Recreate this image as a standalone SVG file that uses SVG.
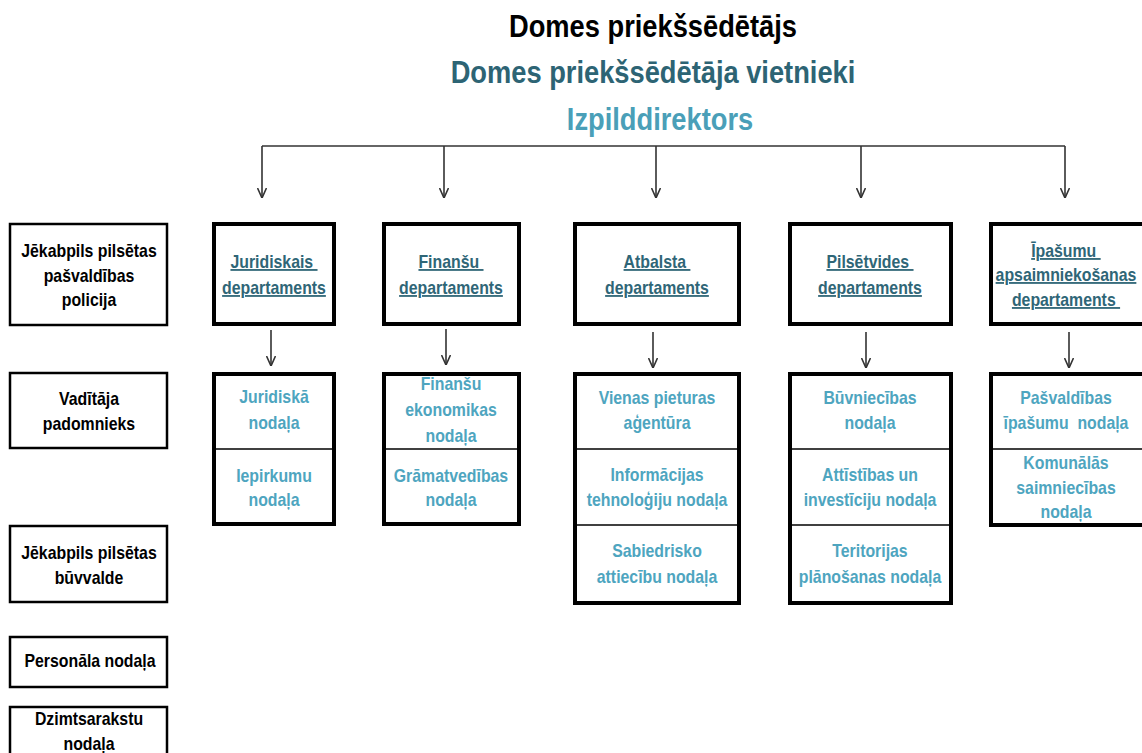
<svg xmlns="http://www.w3.org/2000/svg" width="1142" height="753" viewBox="0 0 1142 753">
<defs>
<style>
text { font-family: "Liberation Sans", Arial, sans-serif; font-weight: bold; text-anchor: middle; transform-box: fill-box; transform-origin: center; transform: scaleX(0.88); }
.h1 { font-size: 31px; fill: #000; }
.h2 { font-size: 31px; fill: #2d6474; }
.h3 { font-size: 31px; fill: #4a9fb8; }
.side { font-size: 18px; fill: #000; }
.dept { font-size: 18px; fill: #2f6677; text-decoration: underline; }
.sub { font-size: 18px; fill: #4ea5bf; }
.box { fill: #fff; stroke: #000; stroke-width: 2.5; }
.dbox { fill: #fff; stroke: #000; stroke-width: 4; }
.div { stroke: #000; stroke-width: 1.5; }
.conn { stroke: #333; stroke-width: 1.6; fill: none; }
.arr { stroke: #333; stroke-width: 1.6; fill: none; marker-end: url(#ah); }
</style>
<marker id="ah" viewBox="0 0 10 10" refX="10" refY="5" markerWidth="10" markerHeight="10" markerUnits="userSpaceOnUse" orient="auto">
<path d="M0,0.5 L10,5 L0,9.5" fill="none" stroke="#333" stroke-width="1.6"/>
</marker>
</defs>
<rect width="1142" height="753" fill="#fff"/>

<g id="titles">
<text class="h1" x="653" y="37">Domes priekšsēdētājs</text>
<text class="h2" x="653" y="83">Domes priekšsēdētāja vietnieki</text>
<text class="h3" x="660" y="130">Izpilddirektors</text>
</g>

<g id="connectors">
<line class="conn" x1="262" y1="146" x2="1065" y2="146"/>
<line class="arr" x1="262" y1="146" x2="262" y2="198"/>
<line class="arr" x1="444" y1="146" x2="444" y2="198"/>
<line class="arr" x1="656" y1="146" x2="656" y2="198"/>
<line class="arr" x1="861" y1="146" x2="861" y2="198"/>
<line class="arr" x1="1065" y1="146" x2="1065" y2="198"/>
<line class="arr" x1="271" y1="330" x2="271" y2="366"/>
<line class="arr" x1="446" y1="329" x2="446" y2="365"/>
<line class="arr" x1="653" y1="332" x2="653" y2="368"/>
<line class="arr" x1="866" y1="332" x2="866" y2="368"/>
<line class="arr" x1="1069" y1="332" x2="1069" y2="368"/>
</g>

<g id="side-policija">
<rect class="box" x="10" y="224" width="157" height="101"/>
<text class="side" x="89" y="257">Jēkabpils pilsētas</text>
<text class="side" x="89" y="282">pašvaldības</text>
<text class="side" x="89" y="306">policija</text>
</g>
<g id="side-padomnieks">
<rect class="box" x="10" y="373" width="157" height="75"/>
<text class="side" x="89" y="405">Vadītāja</text>
<text class="side" x="89" y="430">padomnieks</text>
</g>
<g id="side-buvvalde">
<rect class="box" x="10" y="526" width="157" height="76"/>
<text class="side" x="89" y="559">Jēkabpils pilsētas</text>
<text class="side" x="89" y="584">būvvalde</text>
</g>
<g id="side-personala">
<rect class="box" x="10" y="637" width="157" height="50"/>
<text class="side" x="90" y="667">Personāla nodaļa</text>
</g>
<g id="side-dzimtsarakstu">
<rect class="box" x="10" y="707" width="157" height="60"/>
<text class="side" x="89" y="725">Dzimtsarakstu</text>
<text class="side" x="89" y="750">nodaļa</text>
</g>

<g id="dept-juridiskais">
<rect class="dbox" x="214" y="224" width="120" height="100"/>
<text class="dept" x="274" y="268" xml:space="preserve">Juridiskais </text>
<text class="dept" x="274" y="294">departaments</text>
</g>
<g id="dept-finansu">
<rect class="dbox" x="384" y="224" width="135" height="100"/>
<text class="dept" x="451" y="268" xml:space="preserve">Finanšu </text>
<text class="dept" x="451" y="294">departaments</text>
</g>
<g id="dept-atbalsta">
<rect class="dbox" x="575" y="224" width="164" height="100"/>
<text class="dept" x="657" y="268" xml:space="preserve">Atbalsta </text>
<text class="dept" x="657" y="294">departaments</text>
</g>
<g id="dept-pilsetvides">
<rect class="dbox" x="790" y="224" width="161" height="100"/>
<text class="dept" x="870" y="268" xml:space="preserve">Pilsētvides </text>
<text class="dept" x="870" y="294">departaments</text>
</g>
<g id="dept-ipasumu">
<rect class="dbox" x="991" y="224" width="156" height="100"/>
<text class="dept" x="1066" y="257" xml:space="preserve">Īpašumu </text>
<text class="dept" x="1066" y="281">apsaimniekošanas</text>
<text class="dept" x="1066" y="306" xml:space="preserve">departaments </text>
</g>

<g id="sub-juridiskais">
<rect class="dbox" x="214" y="374" width="120" height="150"/>
<line class="div" x1="214" y1="449" x2="334" y2="449"/>
<text class="sub" x="274" y="403">Juridiskā</text>
<text class="sub" x="274" y="429">nodaļa</text>
<text class="sub" x="274" y="482">Iepirkumu</text>
<text class="sub" x="274" y="506">nodaļa</text>
</g>
<g id="sub-finansu">
<rect class="dbox" x="384" y="374" width="135" height="150"/>
<line class="div" x1="384" y1="449" x2="519" y2="449"/>
<text class="sub" x="451" y="390">Finanšu</text>
<text class="sub" x="451" y="416">ekonomikas</text>
<text class="sub" x="451" y="442">nodaļa</text>
<text class="sub" x="451" y="482">Grāmatvedības</text>
<text class="sub" x="451" y="506">nodaļa</text>
</g>
<g id="sub-atbalsta">
<rect class="dbox" x="575" y="374" width="164" height="229"/>
<line class="div" x1="575" y1="449" x2="739" y2="449"/>
<line class="div" x1="575" y1="525" x2="739" y2="525"/>
<text class="sub" x="657" y="404">Vienas pieturas</text>
<text class="sub" x="657" y="429">aģentūra</text>
<text class="sub" x="657" y="481">Informācijas</text>
<text class="sub" x="657" y="506">tehnoloģiju nodaļa</text>
<text class="sub" x="657" y="557">Sabiedrisko</text>
<text class="sub" x="657" y="583">attiecību nodaļa</text>
</g>
<g id="sub-pilsetvides">
<rect class="dbox" x="790" y="374" width="161" height="229"/>
<line class="div" x1="790" y1="449" x2="951" y2="449"/>
<line class="div" x1="790" y1="525" x2="951" y2="525"/>
<text class="sub" x="870" y="404">Būvniecības</text>
<text class="sub" x="870" y="429">nodaļa</text>
<text class="sub" x="870" y="481">Attīstības un</text>
<text class="sub" x="870" y="506">investīciju nodaļa</text>
<text class="sub" x="870" y="557">Teritorijas</text>
<text class="sub" x="870" y="583">plānošanas nodaļa</text>
</g>
<g id="sub-ipasumu">
<rect class="dbox" x="991" y="374" width="156" height="151"/>
<line class="div" x1="991" y1="449" x2="1147" y2="449"/>
<text class="sub" x="1066" y="404">Pašvaldības</text>
<text class="sub" x="1066" y="429" xml:space="preserve">īpašumu  nodaļa</text>
<text class="sub" x="1066" y="469">Komunālās</text>
<text class="sub" x="1066" y="494">saimniecības</text>
<text class="sub" x="1066" y="518">nodaļa</text>
</g>
</svg>
